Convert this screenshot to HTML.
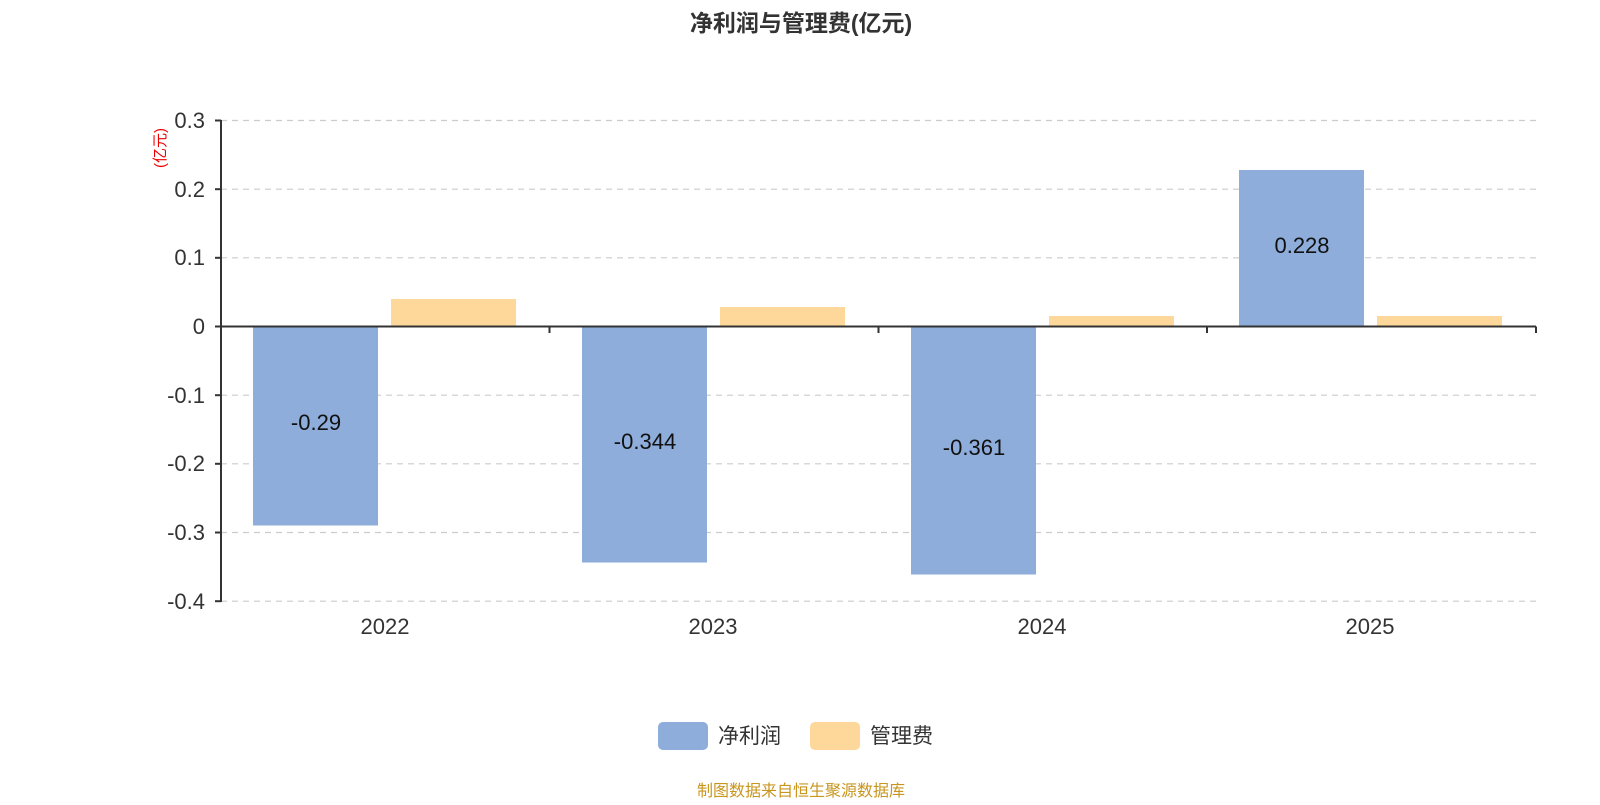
<!DOCTYPE html>
<html><head><meta charset="utf-8"><style>
body{margin:0;width:1600px;height:800px;background:#fff;overflow:hidden}
</style></head><body>
<svg width="1600" height="800" xmlns="http://www.w3.org/2000/svg" font-family="Liberation Sans, Noto Sans CJK SC, sans-serif">
<text x="801" y="31" text-anchor="middle" font-size="23" font-weight="bold" fill="#333">净利润与管理费(亿元)</text>
<text transform="translate(165,148) rotate(-90)" text-anchor="middle" font-size="15" fill="#e00">(亿元)</text>
<g stroke="#ccc" stroke-width="1.2" stroke-dasharray="6,5">
<line x1="221" y1="120.5" x2="1536" y2="120.5"/>
<line x1="221" y1="189.2" x2="1536" y2="189.2"/>
<line x1="221" y1="257.8" x2="1536" y2="257.8"/>
<line x1="221" y1="395.2" x2="1536" y2="395.2"/>
<line x1="221" y1="463.8" x2="1536" y2="463.8"/>
<line x1="221" y1="532.5" x2="1536" y2="532.5"/>
<line x1="221" y1="601.2" x2="1536" y2="601.2"/>
</g>
<g fill="#8eaddb">
<rect x="253" y="326.5" width="125" height="199"/>
<rect x="582" y="326.5" width="125" height="236"/>
<rect x="911" y="326.5" width="125" height="248"/>
<rect x="1239" y="170" width="125" height="156.5"/>
</g>
<g fill="#fdd89a">
<rect x="391" y="299" width="125" height="27.5"/>
<rect x="720" y="307" width="125" height="19.5"/>
<rect x="1049" y="316" width="125" height="10.5"/>
<rect x="1377" y="316" width="125" height="10.5"/>
</g>
<g stroke="#333" stroke-width="2">
<line x1="221" y1="120" x2="221" y2="602"/>
<line x1="221" y1="326.5" x2="1536" y2="326.5"/>
<line x1="215" y1="120.5" x2="221" y2="120.5"/>
<line x1="215" y1="189.2" x2="221" y2="189.2"/>
<line x1="215" y1="257.8" x2="221" y2="257.8"/>
<line x1="215" y1="326.5" x2="221" y2="326.5"/>
<line x1="215" y1="395.2" x2="221" y2="395.2"/>
<line x1="215" y1="463.8" x2="221" y2="463.8"/>
<line x1="215" y1="532.5" x2="221" y2="532.5"/>
<line x1="215" y1="601.2" x2="221" y2="601.2"/>
<line x1="549.5" y1="326.5" x2="549.5" y2="333"/>
<line x1="878.5" y1="326.5" x2="878.5" y2="333"/>
<line x1="1207" y1="326.5" x2="1207" y2="333"/>
<line x1="1536" y1="326.5" x2="1536" y2="333"/>
</g>
<g font-size="22" fill="#333" text-anchor="end">
<text x="205" y="128">0.3</text>
<text x="205" y="197">0.2</text>
<text x="205" y="265">0.1</text>
<text x="205" y="334">0</text>
<text x="205" y="403">-0.1</text>
<text x="205" y="471">-0.2</text>
<text x="205" y="540">-0.3</text>
<text x="205" y="609">-0.4</text>
</g>
<g font-size="22" fill="#333" text-anchor="middle">
<text x="385" y="634">2022</text>
<text x="713" y="634">2023</text>
<text x="1042" y="634">2024</text>
<text x="1370" y="634">2025</text>
</g>
<g font-size="22" fill="#111" text-anchor="middle">
<text x="316" y="430">-0.29</text>
<text x="645" y="449">-0.344</text>
<text x="974" y="455">-0.361</text>
<text x="1302" y="253">0.228</text>
</g>
<rect x="658" y="722" width="50" height="28" rx="5" fill="#8eaddb"/>
<text x="718" y="743" font-size="21" fill="#333">净利润</text>
<rect x="810" y="722" width="50" height="28" rx="5" fill="#fdd89a"/>
<text x="870" y="743" font-size="21" fill="#333">管理费</text>
<text x="801" y="796" text-anchor="middle" font-size="16" fill="#c8961e">制图数据来自恒生聚源数据库</text>
</svg>
</body></html>
